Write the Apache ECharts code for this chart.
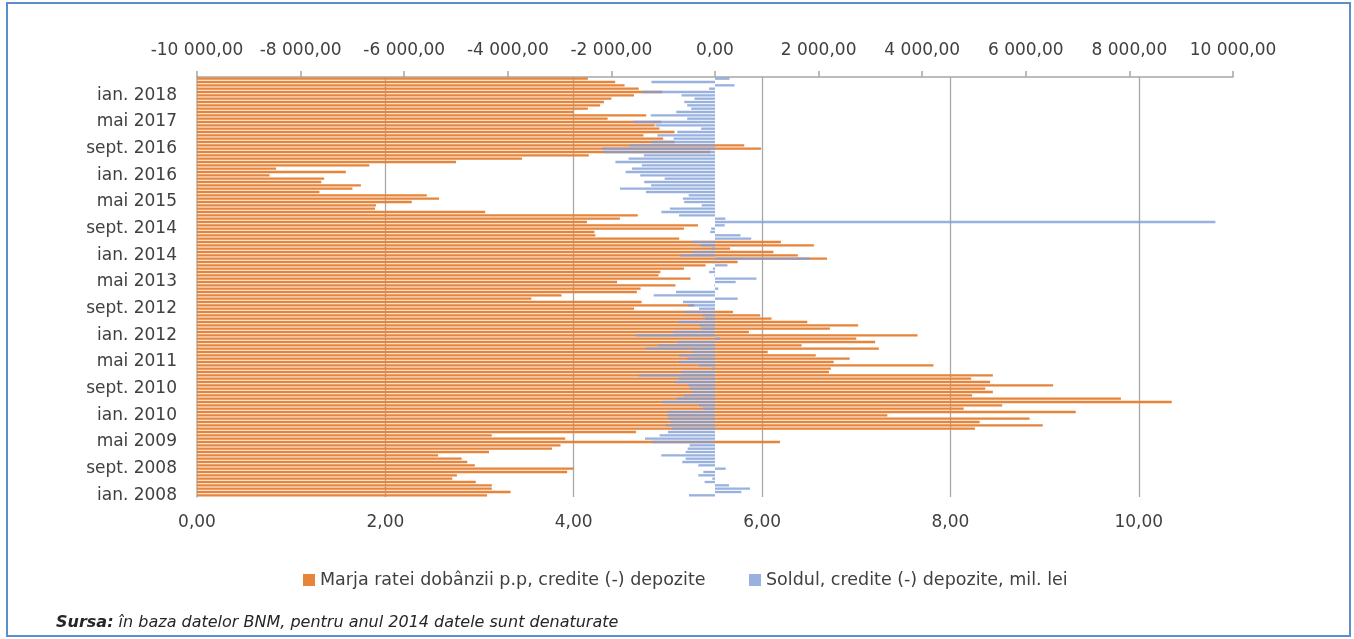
<!DOCTYPE html>
<html>
<head>
<meta charset="utf-8">
<script src="https://cdn.jsdelivr.net/npm/echarts@6/dist/echarts.min.js"></script>
<style>
  html, body { margin: 0; padding: 0; background: #ffffff; }
  #chart { width: 1354px; height: 639px; }
</style>
</head>
<body>
<div id="chart"></div>
<script>
// Month names (Romanian) and years used to build the category labels
const monthNames = ['ian.', 'feb.', 'mar.', 'apr.', 'mai', 'iun.', 'iul.', 'aug.', 'sept.', 'oct.', 'nov.', 'dec.'];
const firstYear = 2008;
const monthCount = 126; // ian. 2008 ... iun. 2018

// Marja ratei dobânzii p.p, credite (-) depozite  (bottom axis, p.p.)
const marja2008 = [3.08, 3.33, 3.13, 3.13, 2.96, 2.71, 2.76, 3.93, 4.00, 2.95, 2.87, 2.81];
const marja2009 = [2.56, 3.10, 3.77, 3.86, 6.19, 3.91, 3.13, 4.66, 8.26, 8.98, 8.31, 8.84];
const marja2010 = [7.33, 9.33, 8.14, 8.55, 10.35, 9.81, 8.23, 8.45, 8.37, 9.09, 8.42, 8.22];
const marja2011 = [8.45, 6.71, 6.73, 7.82, 6.76, 6.93, 6.57, 6.06, 7.24, 6.42, 7.20, 7.00];
const marja2012 = [7.65, 5.86, 6.72, 7.02, 6.48, 6.10, 5.98, 5.69, 4.64, 5.28, 4.72, 3.55];
const marja2013 = [3.87, 4.67, 4.71, 5.08, 4.46, 5.24, 4.90, 4.92, 5.17, 5.40, 5.74, 6.69];
const marja2014 = [6.38, 6.12, 5.66, 6.55, 6.20, 5.12, 4.23, 4.22, 5.17, 5.32, 4.14, 4.49];
const marja2015 = [4.68, 3.06, 1.89, 1.90, 2.28, 2.57, 2.44, 1.30, 1.65, 1.74, 1.32, 1.35];
const marja2016 = [0.77, 1.58, 0.84, 1.83, 2.75, 3.45, 4.16, 5.45, 5.99, 5.81, 5.07, 4.95];
const marja2017 = [4.74, 5.07, 4.91, 4.86, 4.93, 4.36, 4.77, 4.00, 4.15, 4.28, 4.32, 4.40];
const marja2018 = [4.64, 4.94, 4.69, 4.54, 4.44, 4.15];

// Soldul, credite (-) depozite, mil. lei  (top axis)
const sold2008 = [-502, 509, 676, 270, -200, -52, -322, -225, 206, -322, -631, -567];
const sold2009 = [-1037, -567, -528, -489, -1211, -1352, -1069, -908, -824, -953, -857, -902];
const sold2010 = [-921, -921, -232, -309, -1018, -741, -599, -438, -483, -515, -779, -695];
const sold2011 = [-1468, -650, -51, -309, -695, -534, -695, -431, -1340, -1095, -728, 97];
const sold2012 = [-1533, -811, -264, -296, -708, -193, -245, -580, -309, -515, -618, 438];
const sold2013 = [-1185, -753, 64, -13, 400, 800, -13, -113, -40, 240, -50, 1827];
const sold2014 = [-673, -442, -66, -277, -442, 700, 493, -93, -73, 187, 9660, 200];
const sold2015 = [-693, -1036, -871, -257, -594, -620, -508, -1333, -1835, -1234, -1366, -971];
const sold2016 = [-1444, -1725, -1604, -1412, -1923, -1668, -1374, -2160, -2179, -1649, -1233, -799];
const sold2017 = [-1112, -728, -268, -1150, -1572, -537, -1240, -748, -460, -537, -594, -396];
const sold2018 = [-645, -1406, -115, 377, -1227, 281];

// Axis ticks
const bottomTicks = { min: 0, max: 11, interval: 2 };
const topTicks = { min: -10000, max: 10000, interval: 2000 };

const seriesNames = ['Marja ratei dobânzii p.p, credite (-) depozite', 'Soldul, credite (-) depozite, mil. lei'];
const sourceLabel = 'Sursa:';
const sourceText = ' în baza datelor BNM, pentru anul 2014 datele sunt denaturate';

const categories = [];
for (let i = 0; i < monthCount; i++) {
  categories.push(monthNames[i % 12] + ' ' + (firstYear + Math.floor(i / 12)));
}
const marja = [].concat(marja2008, marja2009, marja2010, marja2011, marja2012, marja2013,
  marja2014, marja2015, marja2016, marja2017, marja2018);
const sold = [].concat(sold2008, sold2009, sold2010, sold2011, sold2012, sold2013,
  sold2014, sold2015, sold2016, sold2017, sold2018);

function fmtNum(v) {
  const neg = v < 0;
  const parts = Math.abs(v).toFixed(2).split('.');
  const intPart = parts[0].replace(/\B(?=(\d{3})+(?!\d))/g, ' ');
  return (neg ? '-' : '') + intPart + ',' + parts[1];
}

const FONT = 'DejaVu Sans';
const TXT = '#404040';
const ORANGE = '#E6843A';
const BLUE = '#7F9ED6';

const chart = echarts.init(document.getElementById('chart'), null, { renderer: 'canvas' });
chart.setOption({
  animation: false,
  backgroundColor: '#ffffff',
  textStyle: { fontFamily: FONT },
  grid: { left: 197, right: 121, top: 77, bottom: 142, containLabel: false },
  xAxis: [
    {
      type: 'value',
      position: 'bottom',
      min: bottomTicks.min, max: bottomTicks.max, interval: bottomTicks.interval,
      axisLine: { show: false },
      axisTick: { show: false },
      splitLine: { show: true, showMinLine: false, showMaxLine: false, lineStyle: { color: '#A8A8A8', width: 1.3 } },
      axisLabel: {
        margin: 17, color: TXT, fontSize: 17, fontFamily: FONT, showMaxLabel: false,
        formatter: function (v) { return v > 10 ? '' : fmtNum(v); }
      }
    },
    {
      type: 'value',
      position: 'top',
      min: topTicks.min, max: topTicks.max, interval: topTicks.interval,
      axisLine: { show: true, onZero: false, lineStyle: { color: '#A6A6A6', width: 1.5 } },
      axisTick: { show: true, inside: false, length: 6, lineStyle: { color: '#A6A6A6', width: 1.5 } },
      splitLine: { show: false },
      axisLabel: { margin: 18, color: TXT, fontSize: 17, fontFamily: FONT, formatter: fmtNum }
    }
  ],
  yAxis: {
    type: 'category',
    data: categories,
    boundaryGap: true,
    axisLine: { show: true, onZero: false, lineStyle: { color: '#B0B0B0', width: 1.5 } },
    axisTick: { show: false },
    axisLabel: { interval: 7, margin: 20, color: TXT, fontSize: 17, fontFamily: FONT }
  },
  legend: [
    {
      data: [seriesNames[0]],
      left: 298, top: 566,
      itemWidth: 12, itemHeight: 12, itemGap: 5,
      icon: 'rect',
      textStyle: { color: TXT, fontSize: 17.5, fontFamily: FONT, lineHeight: 18 }
    },
    {
      data: [seriesNames[1]],
      left: 744, top: 566,
      itemWidth: 12, itemHeight: 12, itemGap: 5,
      icon: 'rect',
      textStyle: { color: TXT, fontSize: 17.5, fontFamily: FONT, lineHeight: 18 }
    }
  ],
  series: [
    {
      name: seriesNames[0],
      type: 'bar',
      xAxisIndex: 0,
      yAxisIndex: 0,
      data: marja,
      barWidth: '70%',
      barGap: '-100%',
      itemStyle: { color: ORANGE },
      silent: true
    },
    {
      name: seriesNames[1],
      type: 'bar',
      xAxisIndex: 1,
      yAxisIndex: 0,
      data: sold,
      barWidth: '70%',
      barGap: '-100%',
      itemStyle: { color: BLUE, opacity: 0.8 },
      silent: true
    }
  ],
  graphic: [
    {
      type: 'rect',
      shape: { x: 7, y: 3, width: 1343, height: 633 },
      style: { fill: 'none', stroke: '#5B8DCF', lineWidth: 2 },
      silent: true
    },
    {
      type: 'text',
      x: 56, y: 623,
      style: {
        text: '{b|' + sourceLabel + '}{i|' + sourceText + '}',
        verticalAlign: 'middle',
        rich: {
          b: { fontFamily: FONT, fontSize: 16, fontStyle: 'italic', fontWeight: 'bold', fill: '#262626' },
          i: { fontFamily: FONT, fontSize: 16, fontStyle: 'italic', fill: '#262626' }
        }
      },
      silent: true
    }
  ]
});
</script>
</body>
</html>
